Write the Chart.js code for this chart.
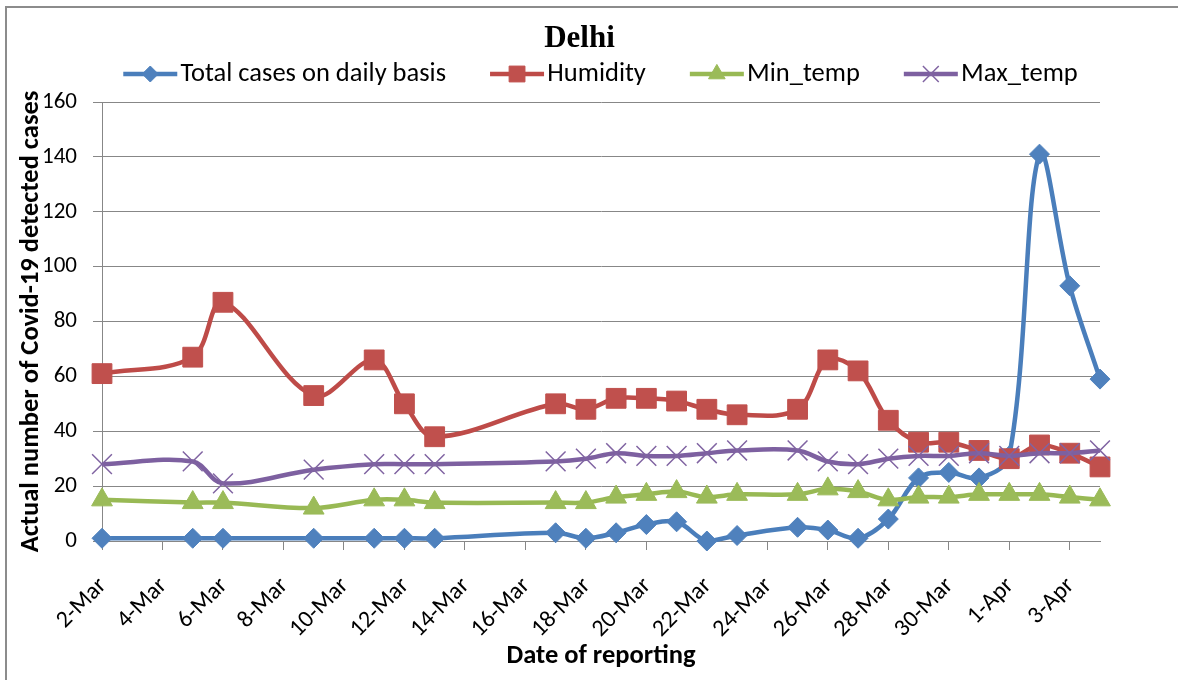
<!DOCTYPE html>
<html>
<head>
<meta charset="utf-8">
<title>Delhi</title>
<script src="https://cdn.jsdelivr.net/npm/chart.js@4.4.1/dist/chart.umd.min.js"></script>
<style>
  html, body { margin: 0; padding: 0; background: #fff; }
  #wrap { position: relative; width: 1178px; height: 680px; overflow: hidden; }
  #frame { position: absolute; left: 5px; top: 6px; width: 1300px; height: 800px;
           border-top: 2px solid #8c8c8c; border-left: 2px solid #8c8c8c; }
  canvas { position: absolute; left: 0; top: 0; }
</style>
</head>
<body>
<div id="wrap">
  <div id="frame"></div>
  <canvas id="chart" width="1178" height="680"></canvas>
</div>
<script>
// dates with a report
const reportDates = ['2-Mar', '5-Mar', '6-Mar', '9-Mar', '11-Mar', '12-Mar', '13-Mar',
  '17-Mar', '18-Mar', '19-Mar', '20-Mar', '21-Mar', '22-Mar', '23-Mar',
  '25-Mar', '26-Mar', '27-Mar', '28-Mar', '29-Mar', '30-Mar', '31-Mar',
  '1-Apr', '2-Apr', '3-Apr', '4-Apr'];

const totalCases = [1, 1, 1, 1, 1, 1, 1, 3, 1, 3, 6, 7, 0, 2, 5, 4, 1, 8, 23, 25, 23, 31, 141, 93, 59];
const humidity   = [61, 67, 87, 53, 66, 50, 38, 50, 48, 52, 52, 51, 48, 46, 48, 66, 62, 44, 36, 36, 33, 30, 35, 32, 27];
const minTemp    = [15, 14, 14, 12, 15, 15, 14, 14, 14, 16, 17, 18, 16, 17, 17, 19, 18, 15, 16, 16, 17, 17, 17, 16, 15];
const maxTemp    = [28, 29, 21, 26, 28, 28, 28, 29, 30, 32, 31, 31, 32, 33, 33, 29, 28, 30, 31, 31, 32, 31, 32, 32, 33];

const xTickLabels = ['2-Mar', '4-Mar', '6-Mar', '8-Mar', '10-Mar', '12-Mar', '14-Mar', '16-Mar',
  '18-Mar', '20-Mar', '22-Mar', '24-Mar', '26-Mar', '28-Mar', '30-Mar', '1-Apr', '3-Apr'];
const yTicks = [0, 20, 40, 60, 80, 100, 120, 140, 160];

// days since 2-Mar
function dayIndex(label) {
  const [d, m] = label.split('-');
  return (m === 'Apr' ? 31 : 0) + Number(d) - 2;
}

const gridGray = '#878787';
const sans = "Carlito, Lato, 'Open Sans', sans-serif";
const yTickFont = { family: sans, size: 23 };
const xTickFont = { family: sans, size: 24 };
const titleFont = { family: sans, size: 26.5, weight: 'bold' };

function series(label, values, line, fill, style, radius, order, bw) {
  return {
    label: label,
    data: reportDates.map((d, i) => ({ x: dayIndex(d), y: values[i] })),
    borderColor: line, backgroundColor: fill,
    borderWidth: 4.5, tension: 0.35,
    pointStyle: style, pointRadius: radius,
    pointBackgroundColor: fill, pointBorderColor: fill, pointBorderWidth: bw,
    order: order, clip: false,
    legendRadius: radius * 0.8
  };
}

// Excel-like legend entry: line with its marker
const legendLines = {
  id: 'legendLines',
  afterDraw(chart) {
    const lg = chart.legend;
    if (!lg || !lg.legendHitBoxes) return;
    const ctx = chart.ctx;
    lg.legendHitBoxes.forEach((hb, i) => {
      const ds = chart.data.datasets[i];
      const y = hb.top + hb.height / 2;
      const x0 = hb.left + 42, x1 = hb.left + 96;
      ctx.save();
      ctx.strokeStyle = ds.borderColor;
      ctx.lineWidth = ds.borderWidth;
      ctx.beginPath(); ctx.moveTo(x0, y); ctx.lineTo(x1, y); ctx.stroke();
      ctx.fillStyle = ds.pointBackgroundColor;
      ctx.strokeStyle = ds.pointBorderColor;
      ctx.lineWidth = ds.pointBorderWidth;
      Chart.helpers.drawPoint(ctx, { pointStyle: ds.pointStyle, radius: ds.legendRadius, rotation: 0, borderWidth: ds.pointBorderWidth }, (x0 + x1) / 2, y);
      ctx.restore();
    });
  }
};

new Chart(document.getElementById('chart'), {
  type: 'line',
  data: {
    datasets: [
      series('Total cases on daily basis', totalCases, '#4A7EBB', '#4F81BD', 'rectRot', 10, 4, 1),
      series('Humidity', humidity, '#BE4B48', '#C0504D', 'rect', 14, 3, 1),
      series('Min_temp', minTemp, '#98B954', '#9BBB59', 'triangle', 12, 2, 1),
      series('Max_temp', maxTemp, '#7D60A0', '#8064A2', 'crossRot', 14, 1, 1.5)
    ]
  },
  options: {
    responsive: false,
    animation: false,
    layout: { padding: { top: 0, left: 0, right: 19, bottom: 0 } },
    plugins: {
      tooltip: { enabled: false },
      title: {
        display: true, text: 'Delhi', color: '#000',
        font: { family: "'Liberation Serif', 'Times New Roman', serif", size: 31, weight: 'bold', lineHeight: 1 },
        padding: { top: 23, bottom: 0 }
      },
      legend: {
        display: true, position: 'top',
        labels: {
          boxWidth: 86, boxHeight: 36, padding: 2, color: '#000',
          font: { family: sans, size: 26.5 },
          generateLabels: chart => chart.data.datasets.map((ds, i) => ({
            text: ds.label, fillStyle: 'rgba(0,0,0,0)', strokeStyle: 'rgba(0,0,0,0)',
            lineWidth: 0, hidden: false, datasetIndex: i
          }))
        }
      }
    },
    scales: {
      x: {
        type: 'linear', min: 0, max: dayIndex('4-Apr'),
        afterBuildTicks: s => { s.ticks = xTickLabels.map(l => ({ value: dayIndex(l) })); },
        afterFit: s => { s.height = 139; s.paddingRight = 78; },
        grid: { drawOnChartArea: false, drawTicks: true, tickLength: 9, color: gridGray },
        border: { color: gridGray, width: 1 },
        ticks: {
          autoSkip: false, minRotation: 45, maxRotation: 45, padding: 22, labelOffset: 1,
          color: '#000', font: xTickFont,
          callback: (v, i) => xTickLabels[i]
        },
        title: { display: true, text: 'Date of reporting', color: '#000', font: titleFont, padding: { top: 0, bottom: 8 } }
      },
      y: {
        min: 0, max: 160,
        afterBuildTicks: s => { s.ticks = yTicks.map(v => ({ value: v })); },
        afterFit: s => { s.width = 102; },
        grid: { color: gridGray, tickLength: 9, lineWidth: 1 },
        border: { color: gridGray, width: 1 },
        ticks: { padding: 16, color: '#000', font: yTickFont },
        title: {
          display: true, text: 'Actual number of Covid-19 detected cases', color: '#000',
          font: titleFont, padding: { top: 15, bottom: 0 }
        }
      }
    }
  },
  plugins: [legendLines]
});
</script>
</body>
</html>
